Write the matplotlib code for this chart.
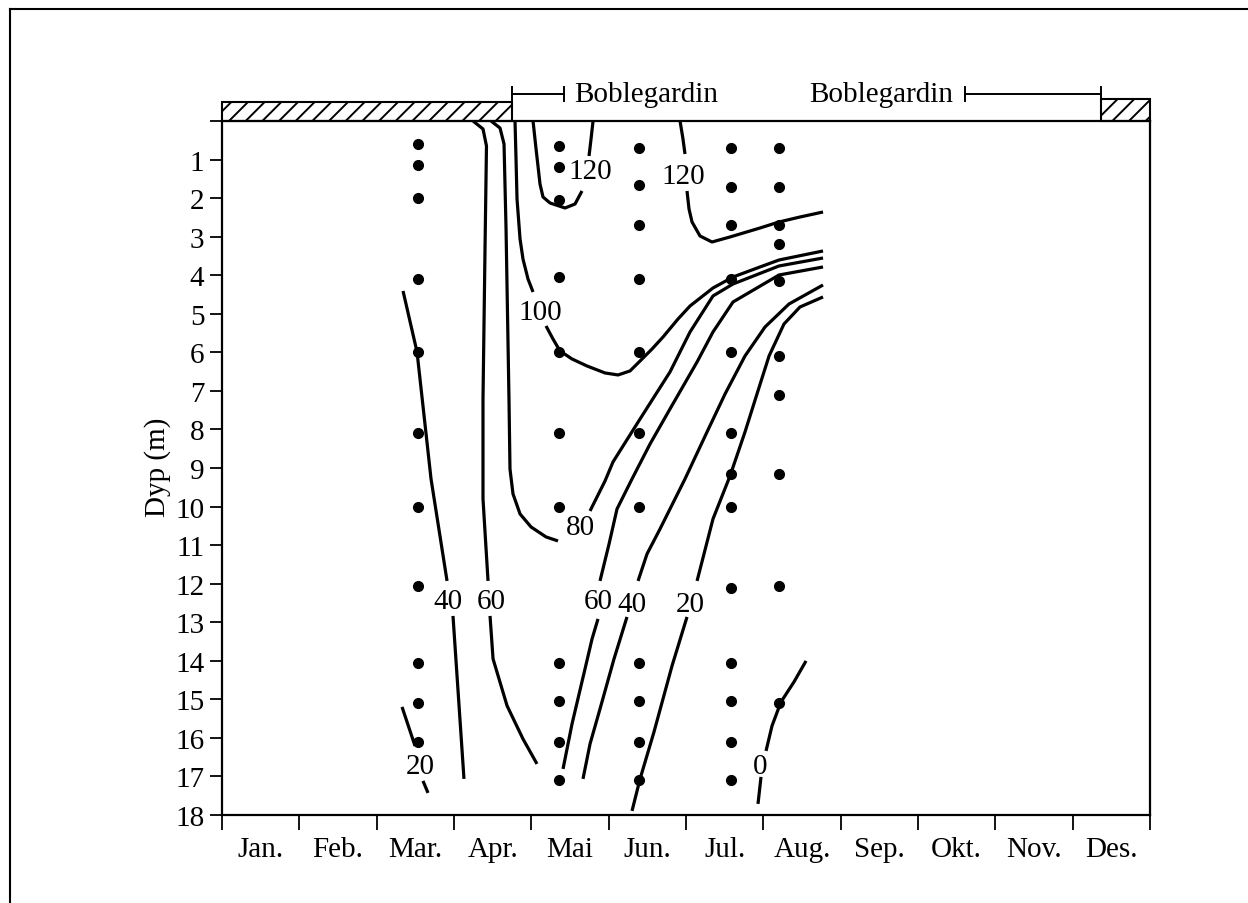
import matplotlib
matplotlib.use("Agg")
import matplotlib.pyplot as plt
from matplotlib.lines import Line2D
from matplotlib.patches import Rectangle

plt.rcParams['font.family'] = ['Liberation Serif', 'DejaVu Serif']
plt.rcParams['hatch.linewidth'] = 1.4

# month labels (placed between the month ticks)
months = ['Jan.', 'Feb.', 'Mar.', 'Apr.', 'Mai', 'Jun.', 'Jul.', 'Aug.', 'Sep.', 'Okt.', 'Nov.', 'Des.']
depth_ticks = list(range(0, 19))

# sampling stations: month position and the depths sampled (m)
station_month = [2.53, 4.36, 5.39, 6.58, 7.20]
station_depths = [
    [0.6, 1.15, 2.0, 4.1, 6.0, 8.1, 10.0, 12.05, 14.05, 15.1, 16.1],
    [0.65, 1.2, 2.05, 4.05, 6.0, 8.1, 10.0, 14.05, 15.05, 16.1, 17.1],
    [0.7, 1.65, 2.7, 4.1, 6.0, 8.1, 10.0, 14.05, 15.05, 16.1, 17.1],
    [0.7, 1.7, 2.7, 4.1, 6.0, 8.1, 9.15, 10.0, 12.1, 14.05, 15.05, 16.1, 17.1],
    [0.7, 1.7, 2.7, 3.2, 4.15, 6.1, 7.1, 9.15, 12.05, 15.1],
]

# hand drawn isolines, (month, depth) pieces, broken where a label sits
iso_120 = [
    ([4.022, 4.061, 4.086, 4.112, 4.151, 4.242, 4.436, 4.565, 4.655],
     [0, 0.726, 1.167, 1.634, 1.971, 2.127, 2.256, 2.153, 1.815]),
    ([4.746, 4.772, 4.798], [0.908, 0.467, 0]),
    ([5.923, 5.961, 5.987], [0, 0.467, 0.856]),
    ([6.013, 6.039, 6.078, 6.181, 6.336, 6.569, 6.957, 7.203, 7.474, 7.772],
     [1.815, 2.282, 2.619, 2.982, 3.138, 3.008, 2.775, 2.619, 2.490, 2.360]),
]
iso_100 = [
    ([3.789, 3.802, 3.815, 3.854, 3.892, 3.957, 4.022],
     [0, 0.985, 2.023, 3.060, 3.579, 4.098, 4.435]),
    ([4.190, 4.280, 4.371, 4.526, 4.720, 4.953, 5.121, 5.276, 5.406, 5.561, 5.703,
      5.897, 6.052, 6.349, 6.608, 6.957, 7.203, 7.772],
     [5.316, 5.654, 5.965, 6.172, 6.354, 6.535, 6.587, 6.483, 6.224, 5.913, 5.602,
      5.135, 4.798, 4.331, 4.046, 3.786, 3.605, 3.371]),
]
iso_80 = [
    ([3.479, 3.595, 3.647, 3.673, 3.711, 3.724, 3.763, 3.854, 3.996, 4.190, 4.345],
     [0, 0.182, 0.596, 2.801, 7.210, 9.025, 9.673, 10.192, 10.529, 10.788, 10.892]),
    ([4.759, 4.953, 5.056, 5.406, 5.793, 6.052, 6.349, 6.608, 7.203, 7.772],
     [10.114, 9.336, 8.843, 7.728, 6.509, 5.472, 4.538, 4.227, 3.760, 3.553]),
]
iso_60 = [
    ([3.246, 3.375, 3.420, 3.401, 3.375, 3.375, 3.440],
     [0, 0.207, 0.648, 3.320, 7.210, 9.803, 11.929]),
    ([3.466, 3.505, 3.686, 3.892, 4.073], [12.837, 13.952, 15.166, 16.027, 16.675]),
    ([4.410, 4.526, 4.694, 4.785, 4.862], [16.805, 15.638, 14.212, 13.434, 12.915]),
    ([4.888, 5.005, 5.108, 5.302, 5.535, 5.793, 6.143, 6.349, 6.608, 7.203, 7.772],
     [11.929, 10.970, 10.062, 9.284, 8.377, 7.469, 6.250, 5.472, 4.694, 3.994, 3.786]),
]
iso_40 = [
    ([2.341, 2.522, 2.703, 2.910], [4.409, 5.991, 9.284, 11.929]),
    ([2.987, 3.129], [12.837, 17.064]),
    ([4.668, 4.759, 4.888, 5.069, 5.237], [17.064, 16.157, 15.249, 13.952, 12.863]),
    ([5.380, 5.496, 5.664, 5.987, 6.272, 6.505, 6.763, 7.022, 7.332, 7.772],
     [11.929, 11.229, 10.581, 9.284, 8.065, 7.080, 6.094, 5.342, 4.746, 4.253]),
]
iso_20 = [
    ([2.328, 2.496], [15.197, 16.209]),
    ([2.599, 2.664], [17.116, 17.427]),
    ([5.302, 5.406, 5.586, 5.819, 6.013], [17.894, 17.064, 15.846, 14.134, 12.863]),
    ([6.143, 6.349, 6.569, 6.763, 6.918, 7.074, 7.267, 7.474, 7.772],
     [11.929, 10.322, 9.207, 8.065, 7.080, 6.094, 5.265, 4.824, 4.564]),
]
iso_0 = [
    ([7.552, 7.396, 7.228, 7.112, 7.035], [14.004, 14.549, 15.068, 15.690, 16.338]),
    ([6.970, 6.931], [17.012, 17.712]),
]

# isoline labels: text, month, depth
iso_labels = [
    ('120', 4.76, 1.30), ('120', 5.96, 1.42), ('100', 4.11, 4.95), ('80', 4.63, 10.52),
    ('40', 2.92, 12.46), ('60', 3.48, 12.46), ('60', 4.86, 12.46), ('40', 5.30, 12.52),
    ('20', 6.05, 12.52), ('20', 2.57, 16.74), ('0', 6.96, 16.72),
]

# ice cover (hatched) and periods of "Boblegardin" (months)
ice_periods = [(0.0, 3.75, 0.48), (11.37, 12.0, 0.57)]
bubble_brackets = [(3.75, 4.42), (9.61, 11.37)]
bubble_text_x = [5.49, 8.53]

fig = plt.figure(figsize=(12.48, 9.04), dpi=100)
ax = fig.add_axes([222 / 1248, 1 - 816 / 904, 928 / 1248, 694 / 904])
ax.set_xlim(0, 12)
ax.set_ylim(18, 0)

for s in ax.spines.values():
    s.set_linewidth(1.6)

fs = 21
ax.set_yticks(depth_ticks)
ax.set_yticklabels([''] + [str(d) for d in depth_ticks[1:]], fontsize=fs)
ax.tick_params(axis='y', direction='out', length=8.6, width=1.3, pad=4)

ax.set_xticks(range(13))
ax.set_xticklabels([''] * 13)
ax.set_xticks([i + 0.5 for i in range(12)], minor=True)
ax.set_xticklabels(months, minor=True, fontsize=fs)
ax.tick_params(axis='x', which='major', direction='out', length=11, width=1.3)
ax.tick_params(axis='x', which='minor', length=0, pad=15)

fig.text(158 / 1248, 1 - 467 / 904, 'Dyp (m)', rotation=90, fontsize=fs,
         ha='center', va='center')

# sample dots
for m, depths in zip(station_month, station_depths):
    ax.plot([m] * len(depths), depths, 'o', color='black', ms=7, zorder=3)

for iso in [iso_120, iso_100, iso_80, iso_60, iso_40, iso_20, iso_0]:
    for xs, ys in iso:
        ax.plot(xs, ys, color='black', lw=2.3, solid_capstyle='butt',
                solid_joinstyle='round', zorder=2)

for txt, m, d in iso_labels:
    ax.text(m, d, txt, fontsize=fs, ha='center', va='center', zorder=4)

# ice cover boxes above the surface
for x0, x1, h in ice_periods:
    ax.add_patch(Rectangle((x0, -h), x1 - x0, h, fill=False, hatch='//',
                           lw=1.5, edgecolor='black', clip_on=False))

# Boblegardin brackets
yb = -0.70
for x0, x1 in bubble_brackets:
    ax.plot([x0, x1], [yb, yb], color='black', lw=1.4, clip_on=False)
    ax.plot([x0, x0], [yb - 0.17, yb + 0.17], color='black', lw=1.4, clip_on=False)
    ax.plot([x1, x1], [yb - 0.17, yb + 0.17], color='black', lw=1.4, clip_on=False)
for x in bubble_text_x:
    ax.text(x, yb, 'Boblegardin', fontsize=fs, ha='center', va='center')

# scanned page frame (left and top edges)
fig.add_artist(Line2D([10 / 1248, 10 / 1248], [0, 1 - 10 / 904], color='black', lw=1.5))
fig.add_artist(Line2D([10 / 1248, 1], [1 - 10 / 904, 1 - 10 / 904], color='black', lw=1.5))

fig.savefig('out.png', dpi=100)
